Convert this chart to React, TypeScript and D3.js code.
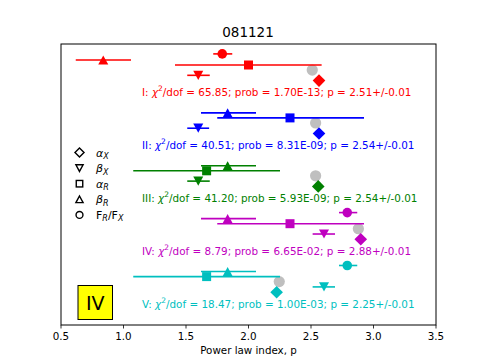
import React from "react";
import * as d3 from "d3";

const groups = ["I", "II", "III", "IV", "V"];
const colors = ["#ff0000", "#0000ff", "#008000", "#bf00bf", "#00bfbf"];
const chi2 = ["65.85", "40.51", "41.20", "8.79", "18.47"];
const probs = ["1.70E-13", "8.31E-09", "5.93E-09", "6.65E-02", "1.00E-03"];
const pLabel = ["2.51", "2.54", "2.54", "2.88", "2.25"];
const pValue = [2.51, 2.537, 2.537, 2.879, 2.246];

// [value, low, high]
const alphaX: (number[] | null)[] = [[2.564], [2.564], [2.558], [2.898], [2.225]];
const betaX: (number[] | null)[] = [
  [1.598, 1.51, 1.69],
  [1.598, 1.51, 1.685],
  [1.598, 1.51, 1.69],
  [2.604, 2.513, 2.692],
  [2.604, 2.513, 2.692],
];
const alphaR: (number[] | null)[] = [
  [2.0, 1.412, 2.585],
  [2.332, 1.75, 2.924],
  [1.665, 1.078, 2.252],
  [2.332, 1.75, 2.924],
  [1.665, 1.078, 2.252],
];
const betaR: (number[] | null)[] = [
  [0.838, 0.618, 1.06],
  [1.833, 1.62, 2.06],
  [1.833, 1.62, 2.06],
  [1.833, 1.62, 2.06],
  [1.833, 1.62, 2.06],
];
const ratioRX: (number[] | null)[] = [
  [1.79, 1.718, 1.87],
  null,
  null,
  [2.79, 2.724, 2.87],
  [2.79, 2.724, 2.87],
];

const xTicks = [0.5, 1.0, 1.5, 2.0, 2.5, 3.0, 3.5];
const legendItems = ["alphaX", "betaX", "alphaR", "betaR", "ratio"];
const textX = 1.148;
const boxLabel = "IV";
const title = "081121";
const xLabel = "Power law index, p";

// vertical slot offsets within a group (in group units)
const offsets = { ratio: -0.115, betaR: 0, alphaR: 0.095, pv: 0.19, betaX: 0.29, alphaX: 0.39, text: 0.605 };

const W = 485, H = 364;
const L = 61, R = 436, T = 44, B = 325;
const x = d3.scaleLinear().domain([0.5, 3.5]).range([L, R]);
const y = d3.scaleLinear().domain([-0.302, 5.01]).range([T, B]);

const FONT = "DejaVu Sans, sans-serif";

function marker(kind: string, cx: number, cy: number, fill: string, stroke: string, scale = 1, sw = 0) {
  const common = { fill, stroke, strokeWidth: sw };
  if (kind === "ratio") return <circle cx={cx} cy={cy} r={4.8 * scale} {...common} />;
  if (kind === "pv") return <circle cx={cx} cy={cy} r={5.6 * scale} {...common} />;
  if (kind === "alphaR") {
    const s = 4.5 * scale;
    return <rect x={cx - s} y={cy - s} width={2 * s} height={2 * s} {...common} />;
  }
  if (kind === "alphaX") {
    const s = 6.3 * scale;
    return <path d={`M${cx},${cy - s}L${cx + s},${cy}L${cx},${cy + s}L${cx - s},${cy}Z`} {...common} />;
  }
  if (kind === "betaR") {
    const w = 5 * scale, h = 4.6 * scale;
    return <path d={`M${cx},${cy - h}L${cx + w},${cy + h}L${cx - w},${cy + h}Z`} {...common} />;
  }
  const w = 5 * scale, h = 4.6 * scale;
  return <path d={`M${cx},${cy + h}L${cx + w},${cy - h}L${cx - w},${cy - h}Z`} {...common} />;
}

const series: [string, (number[] | null)[]][] = [
  ["ratio", ratioRX],
  ["betaR", betaR],
  ["alphaR", alphaR],
  ["betaX", betaX],
  ["alphaX", alphaX],
];

function legendLabel(k: string) {
  const sub = (s: string) => (
    <tspan fontStyle="italic" fontSize={8} dy={2.5}>{s}</tspan>
  );
  if (k === "alphaX") return [<tspan key="a" fontStyle="italic">α</tspan>, <React.Fragment key="b">{sub("X")}</React.Fragment>];
  if (k === "betaX") return [<tspan key="a" fontStyle="italic">β</tspan>, <React.Fragment key="b">{sub("X")}</React.Fragment>];
  if (k === "alphaR") return [<tspan key="a" fontStyle="italic">α</tspan>, <React.Fragment key="b">{sub("R")}</React.Fragment>];
  if (k === "betaR") return [<tspan key="a" fontStyle="italic">β</tspan>, <React.Fragment key="b">{sub("R")}</React.Fragment>];
  return [
    <tspan key="a">F</tspan>,
    <tspan key="b" fontStyle="italic" fontSize={8} dy={2.5}>R</tspan>,
    <tspan key="c" dy={-2.5}>/F</tspan>,
    <tspan key="d" fontStyle="italic" fontSize={8} dy={2.5}>X</tspan>,
  ];
}

export default function App() {
  return (
    <svg width={W} height={H} style={{ position: "absolute", left: 0, top: 0, background: "#fff" }} fontFamily={FONT}>
      <rect x={0} y={0} width={W} height={H} fill="#fff" />
      <text x={248} y={37} textAnchor="middle" fontSize={13.5} fill="#000">{title}</text>
      {/* gray p-value circles */}
      {groups.map((g, i) => (
        <g key={"pv" + g}>{marker("pv", x(pValue[i]), y(i + offsets.pv), "#bfbfbf", "none")}</g>
      ))}
      {groups.map((g, i) => (
        <g key={g}>
          {series.map(([k, arr]) => {
            const d = arr[i];
            if (!d) return null;
            const cy = y(i + (offsets as any)[k]);
            return (
              <g key={k}>
                {d.length > 1 && (
                  <line x1={x(d[1])} x2={x(d[2])} y1={cy} y2={cy} stroke={colors[i]} strokeWidth={1.6} />
                )}
                {marker(k, x(d[0]), cy, colors[i], "none")}
              </g>
            );
          })}
          <text x={x(textX)} y={y(i + offsets.text) + 4} fontSize={10.4} fill={colors[i]}>
            {g}: <tspan fontStyle="italic">χ</tspan>
            <tspan fontSize={7.5} dy={-4.5}>2</tspan>
            <tspan dy={4.5}>/dof = {chi2[i]}; prob = {probs[i]}; p = {pLabel[i]}+/-0.01</tspan>
          </text>
        </g>
      ))}
      {/* legend */}
      {legendItems.map((k, j) => {
        const cy = 152.5 + j * 15.6;
        return (
          <g key={k}>
            {marker(k === "ratio" ? "ratio" : k, 79.5, cy, "none", "#000", 0.72, 1.4)}
            <text x={96} y={cy + 4} fontSize={11} fill="#000">{legendLabel(k)}</text>
          </g>
        );
      })}
      {/* IV box */}
      <rect x={78} y={285.5} width={34.5} height={34} fill="#ffff00" stroke="#000" strokeWidth={1} />
      <text x={95.2} y={309.5} textAnchor="middle" fontSize={19} fill="#000">{boxLabel}</text>
      {/* frame */}
      <rect x={L} y={T} width={R - L} height={B - T} fill="none" stroke="#000" strokeWidth={1} />
      {xTicks.map((t) => (
        <g key={t}>
          <line x1={x(t)} x2={x(t)} y1={B} y2={B + 3.5} stroke="#000" strokeWidth={0.8} />
          <text x={x(t)} y={B + 15} textAnchor="middle" fontSize={10.3} fill="#000">{t.toFixed(1)}</text>
        </g>
      ))}
      <text x={(L + R) / 2} y={B + 29} textAnchor="middle" fontSize={10.3} fill="#000">{xLabel}</text>
    </svg>
  );
}
